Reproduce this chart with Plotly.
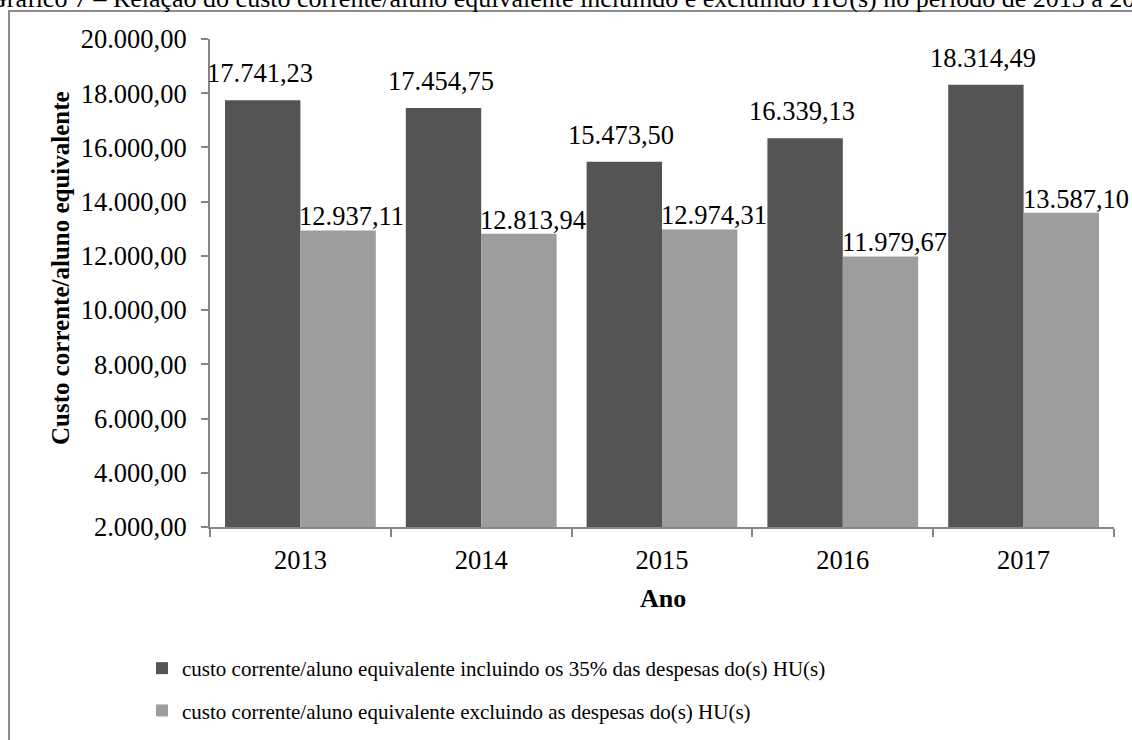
import plotly.graph_objects as go

# Ano de referência e custo corrente por aluno equivalente (R$)
anos = ["2013", "2014", "2015", "2016", "2017"]
incluindo_hu = [17741.23, 17454.75, 15473.50, 16339.13, 18314.49]
excluindo_hu = [12937.11, 12813.94, 12974.31, 11979.67, 13587.10]

nome_incl = "custo corrente/aluno equivalente incluindo os 35% das despesas do(s) HU(s)"
nome_excl = "custo corrente/aluno equivalente excluindo as despesas do(s) HU(s)"
titulo = ("Gráfico 7 – Relação do custo corrente/aluno equivalente incluindo e "
          "excluindo HU(s) no período de 2013 a 2017")

yticks = list(range(2000, 20001, 2000))

W, H = 1132, 740
ML, MR, MT, MB = 210, 18, 39, 213
PW, PH = W - ML - MR, H - MT - MB

SERIF = "Liberation Serif, Times New Roman, serif"
COR_ESCURA = "#545454"
COR_CLARA = "#9d9d9d"
BARGAP = 0.166


def br(v, casas=2):
    s = f"{v:,.{casas}f}"
    return s.replace(",", "X").replace(".", ",").replace("X", ".")


def px_x(p):
    return (p - ML) / PW


def px_y(p):
    return 1 - (p - MT) / PH


fig = go.Figure()
fig.add_trace(go.Bar(x=anos, y=incluindo_hu, name=nome_incl, legendgroup="a",
                     marker=dict(color=COR_ESCURA, line=dict(width=0))))
fig.add_trace(go.Bar(x=anos, y=excluindo_hu, name=nome_excl, legendgroup="b",
                     marker=dict(color=COR_CLARA, line=dict(width=0))))

# rótulos de valor acima das barras
meia = (1 - BARGAP) / 4
anns = []
for i, (a, b) in enumerate(zip(incluindo_hu, excluindo_hu)):
    anns.append(dict(x=i - meia, y=a, xref="x", yref="y", text=br(a),
                     showarrow=False, xanchor="center", yanchor="bottom",
                     xshift=-3, yshift=10, font=dict(family=SERIF, size=26.5, color="#000")))
    anns.append(dict(x=i + 0.0, y=b, xref="x", yref="y", text=br(b),
                     showarrow=False, xanchor="left", yanchor="bottom",
                     xshift=-3, yshift=-3, font=dict(family=SERIF, size=26.5, color="#000")))

# título do eixo y
anns.append(dict(x=px_x(60), y=px_y(268), xref="paper", yref="paper",
                 text="<b>Custo corrente/aluno equivalente</b>", textangle=-90,
                 showarrow=False, xanchor="center", yanchor="middle",
                 font=dict(family=SERIF, size=25, color="#000")))
# título do eixo x
anns.append(dict(x=px_x(663), y=px_y(598), xref="paper", yref="paper",
                 text="<b>Ano</b>", showarrow=False, xanchor="center", yanchor="middle",
                 font=dict(family=SERIF, size=26, color="#000")))
# título do gráfico
anns.append(dict(x=px_x(574), y=px_y(-1), xref="paper", yref="paper",
                 text=titulo, showarrow=False, xanchor="center", yanchor="middle",
                 font=dict(family=SERIF, size=26, color="#000")))

fig.update_layout(
    width=W, height=H,
    margin=dict(l=ML, r=MR, t=MT, b=MB, pad=0, autoexpand=False),
    paper_bgcolor="white", plot_bgcolor="white",
    barmode="group", bargap=BARGAP, bargroupgap=0,
    font=dict(family=SERIF, color="#000"),
    annotations=anns,
    showlegend=True,
    legend=dict(x=px_x(142), y=px_y(648), xanchor="left", yanchor="top",
                font=dict(family=SERIF, size=21, color="#000"),
                tracegroupgap=12, bgcolor="rgba(0,0,0,0)", traceorder="grouped",
                itemwidth=30),
    shapes=[dict(type="rect", xref="paper", yref="paper",
                 x0=px_x(9), x1=px_x(1180), y0=px_y(800), y1=px_y(11),
                 line=dict(color="#8c8c8c", width=2), layer="below")],
)

fig.update_xaxes(type="category", range=[-0.5, len(anos) - 0.5], automargin=False,
                 showline=True, linecolor="#868686", linewidth=2,
                 ticks="outside", tickson="boundaries", ticklen=8, tickwidth=2,
                 tickcolor="#868686", showgrid=False, zeroline=False,
                 tickfont=dict(family=SERIF, size=26.5, color="#000"),
                 ticklabelstandoff=8)
fig.update_yaxes(range=[2000, 20000], tickvals=yticks, automargin=False,
                 ticktext=[br(v) for v in yticks],
                 showline=True, linecolor="#868686", linewidth=2,
                 ticks="outside", ticklen=7, tickwidth=2, tickcolor="#868686",
                 showgrid=False, zeroline=False,
                 tickfont=dict(family=SERIF, size=26.5, color="#000"),
                 ticklabelstandoff=9)

fig.write_html("out.html")
